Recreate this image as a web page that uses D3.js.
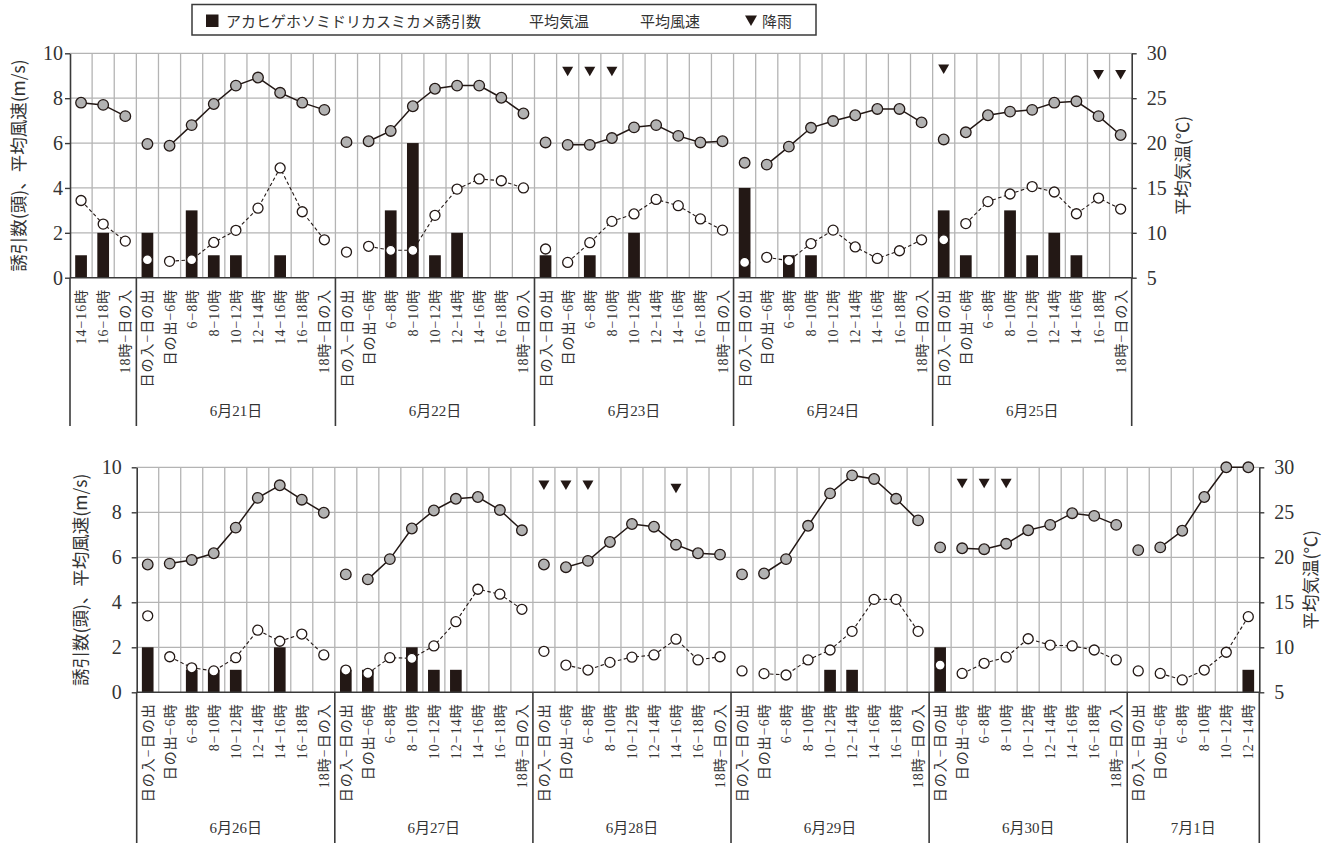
<!DOCTYPE html>
<html><head><meta charset="utf-8">
<script src="https://cdn.jsdelivr.net/npm/d3@7"></script>
<style>body{margin:0;background:#fff}svg{display:block}</style>
</head><body><svg id="c" width="1333" height="843"></svg>
<script>
// ---------------- data ----------------
const dayPeriods = ["日の入−日の出","日の出−6時","6−8時","8−10時","10−12時","12−14時","14−16時","16−18時","18時−日の入"];
const firstDayPeriods = ["14−16時","16−18時","18時−日の入"];
const lastDayPeriods = ["日の入−日の出","日の出−6時","6−8時","8−10時","10−12時","12−14時"];
const nightPeriod = "日の入−日の出";

const topDayLabels = ["", "6月21日", "6月22日", "6月23日", "6月24日", "6月25日"];
const botDayLabels = ["6月26日", "6月27日", "6月28日", "6月29日", "6月30日", "7月1日"];

const leftTicks = [0, 2, 4, 6, 8, 10];
const rightTicks = [5, 10, 15, 20, 25, 30];

const legendLabels = ["アカヒゲホソミドリカスミカメ誘引数", "平均気温", "平均風速", "降雨"];
const leftTitle = "誘引数(頭)、平均風速(m/s)";
const rightTitle = "平均気温(℃)";

// top panel (6/20 afternoon – 6/25)
const topCount = [1,2,0, 2,0,3,1,1,0,1,0,0, 0,0,3,6,1,2,0,0,0, 1,0,1,0,2,0,0,0,0, 4,0,1,1,0,0,0,0,0, 3,1,0,3,1,2,1,0,0];
const topTemp = [24.5,24.25,23.0, 19.9,19.7,22.0,24.35,26.4,27.3,25.6,24.5,23.7, 20.1,20.2,21.35,24.1,26.05,26.4,26.4,25.05,23.3, 20.07,19.8,19.8,20.56,21.75,22.0,20.8,20.07,20.2, 17.8,17.6,19.6,21.7,22.45,23.1,23.8,23.8,22.3, 20.4,21.2,23.1,23.5,23.7,24.5,24.65,23.0,20.9];
const topWind = [3.44,2.39,1.63, 0.80,0.73,0.80,1.57,2.11,3.10,4.89,2.94,1.69, 1.14,1.40,1.22,1.22,2.78,3.95,4.40,4.32,4.00, 1.28,0.68,1.56,2.51,2.84,3.49,3.21,2.62,2.12, 0.68,0.91,0.76,1.52,2.12,1.37,0.86,1.20,1.69, 1.69,2.41,3.39,3.73,4.06,3.82,2.85,3.55,3.06];
const topRain = [null,null,null, null,null,null,null,null,null,null,null,null, null,null,null,null,null,null,null,null,null, null,9.2,9.2,9.2,null,null,null,null,null, null,null,null,null,null,null,null,null,null, 9.3,null,null,null,null,null,null,9.05,9.05];

// bottom panel (6/26 – 7/1 noon)
const botCount = [2,0,1,1,1,0,2,0,0, 1,1,0,2,1,1,0,0,0, 0,0,0,0,0,0,0,0,0, 0,0,0,0,1,1,0,0,0, 2,0,0,0,0,0,0,0,0, 0,0,0,0,0,1];
const botTemp = [19.2,19.3,19.7,20.45,23.3,26.6,28.0,26.4,24.95, 18.1,17.55,19.8,23.2,25.2,26.5,26.7,25.25,23.0, 19.2,18.9,19.6,21.7,23.7,23.4,21.4,20.45,20.3, 18.1,18.2,19.8,23.5,27.1,29.1,28.7,26.5,24.1, 21.1,21.0,20.9,21.5,23.0,23.6,24.9,24.6,23.6, 20.8,21.1,22.95,26.7,30.0,30.0];
const botWind = [3.40,1.58,1.09,0.95,1.54,2.76,2.27,2.59,1.66, 0.99,0.84,1.54,1.51,2.06,3.14,4.58,4.36,3.69, 1.82,1.21,0.99,1.33,1.56,1.66,2.36,1.44,1.58, 0.95,0.83,0.77,1.44,1.88,2.71,4.13,4.13,2.71, 1.21,0.84,1.29,1.56,2.38,2.10,2.06,1.88,1.44, 0.95,0.84,0.55,0.99,1.78,3.36];
const botRain = [null,null,null,null,null,null,null,null,null, null,null,null,null,null,null,null,null,null, 9.21,9.21,9.21,null,null,null,9.07,null,null, null,null,null,null,null,null,null,null,null, null,9.29,9.29,9.29,null,null,null,null,null, null,null,null,null,null,null];

// ---------------- drawing ----------------
const svg = d3.select("#c");
const CJK = "'Noto Sans CJK JP', sans-serif";
const SERIF = "'Liberation Serif', 'Noto Sans CJK JP', serif";
const INK = "#231815";
const GRID = "#b4b4b4";
const AXIS = "#3a3a3a";

function drawPanel(cfg, dayLabels, periodLists, count, temp, wind, rain) {
  const g = svg.append("g");
  const cats = [];
  periodLists.forEach((ps, d) => ps.forEach((p, j) => cats.push({day: d, period: p, key: d + "_" + j, i: cats.length})));
  const x = d3.scaleBand().domain(cats.map(c => c.key)).range([cfg.x0, cfg.x1]);
  const yL = d3.scaleLinear().domain([0, 10]).range([cfg.yB, cfg.yT]);
  const yR = d3.scaleLinear().domain([5, 30]).range([cfg.yB, cfg.yT]);
  const cx = i => x(cats[i].key) + x.bandwidth() / 2;
  const edges = cats.map(c => x(c.key)).concat([cfg.x1]);

  // grid
  g.append("g").selectAll("line").data(edges.slice(1, -1)).join("line")
    .attr("x1", d => d).attr("x2", d => d).attr("y1", cfg.yT).attr("y2", cfg.yB)
    .attr("stroke", GRID).attr("stroke-width", 1.3);
  g.append("g").selectAll("line").data(leftTicks.filter(t => t > 0)).join("line")
    .attr("x1", cfg.x0).attr("x2", cfg.x1).attr("y1", d => yL(d)).attr("y2", d => yL(d))
    .attr("stroke", GRID).attr("stroke-width", 1.3);

  // bars
  const bw = x.bandwidth() * 0.53;
  g.append("g").selectAll("rect").data(cats.filter(c => count[c.i] > 0)).join("rect")
    .attr("x", c => cx(c.i) - bw / 2).attr("width", bw)
    .attr("y", c => yL(count[c.i])).attr("height", c => yL(0) - yL(count[c.i]))
    .attr("fill", INK);

  // line segments per day (night period stands alone)
  const segs = periodLists.map((ps, d) => cats.filter(c => c.day === d && c.period !== nightPeriod));
  const lineT = d3.line().x(c => cx(c.i)).y(c => yR(temp[c.i]));
  const lineW = d3.line().x(c => cx(c.i)).y(c => yL(wind[c.i]));
  g.append("g").selectAll("path").data(segs).join("path")
    .attr("d", lineW).attr("fill", "none").attr("stroke", INK).attr("stroke-width", 1.1)
    .attr("stroke-dasharray", "3.5,2.5");
  g.append("g").selectAll("path").data(segs).join("path")
    .attr("d", lineT).attr("fill", "none").attr("stroke", INK).attr("stroke-width", 1.5);

  // points
  g.append("g").selectAll("circle").data(cats).join("circle")
    .attr("cx", c => cx(c.i)).attr("cy", c => yL(wind[c.i])).attr("r", 5)
    .attr("fill", "#fff").attr("stroke", INK).attr("stroke-width", 1.3);
  g.append("g").selectAll("circle").data(cats).join("circle")
    .attr("cx", c => cx(c.i)).attr("cy", c => yR(temp[c.i])).attr("r", 5.3)
    .attr("fill", "#b2b2b2").attr("stroke", INK).attr("stroke-width", 1.3);

  // rain markers
  g.append("g").selectAll("path").data(cats.filter(c => rain[c.i] != null)).join("path")
    .attr("transform", c => `translate(${cx(c.i)},${yL(rain[c.i])})`)
    .attr("d", "M-5.5,-4.5L5.5,-4.5L0,5Z").attr("fill", INK);

  // axes
  const axL = g.append("g").attr("transform", `translate(${cfg.x0},0)`)
    .call(d3.axisLeft(yL).tickValues(leftTicks).tickSize(5).tickSizeOuter(0).tickPadding(cfg.leftPad));
  const axR = g.append("g").attr("transform", `translate(${cfg.x1},0)`)
    .call(d3.axisRight(yR).tickValues(rightTicks).tickSize(5).tickSizeOuter(0).tickPadding(10));
  [axL, axR].forEach(a => {
    a.select(".domain").attr("stroke", AXIS).attr("stroke-width", 1.6);
    a.selectAll(".tick line").attr("stroke", AXIS).attr("stroke-width", 1.4);
    a.selectAll(".tick text").attr("font-family", SERIF).attr("font-size", 20).attr("fill", "#333");
  });
  g.append("line").attr("x1", cfg.x0).attr("x2", cfg.x1).attr("y1", yL(0)).attr("y2", yL(0))
    .attr("stroke", AXIS).attr("stroke-width", 1.6);

  // category labels
  g.append("g").selectAll("text").data(cats).join("text")
    .attr("transform", c => `translate(${cx(c.i)},${cfg.yB + 11}) rotate(-90)`)
    .attr("text-anchor", "end").attr("dy", "0.36em")
    .attr("font-family", SERIF).attr("font-size", 14).attr("letter-spacing", 1).attr("fill", "#333")
    .text(c => c.period);

  // day separators & labels
  const dayStart = periodLists.map((ps, d) => x(cats.find(c => c.day === d).key));
  const seps = dayStart.concat([cfg.x1]);
  g.append("g").selectAll("line").data(seps).join("line")
    .attr("x1", d => d).attr("x2", d => d).attr("y1", cfg.yB).attr("y2", cfg.sepB)
    .attr("stroke", AXIS).attr("stroke-width", 1.6);
  g.append("g").selectAll("text").data(dayLabels).join("text")
    .attr("x", (d, k) => (seps[k] + seps[k + 1]) / 2).attr("y", cfg.dayY)
    .attr("text-anchor", "middle").attr("dominant-baseline", "central")
    .attr("font-family", SERIF).attr("font-size", 15).attr("fill", "#333")
    .text(d => d);

  // axis titles
  g.append("text").attr("transform", `translate(${cfg.x0 - cfg.leftTitleOff},${(cfg.yT + cfg.yB) / 2}) rotate(-90)`)
    .attr("text-anchor", "middle").attr("dominant-baseline", "central")
    .attr("font-family", CJK).attr("font-size", 17.5).attr("fill", "#333").text(leftTitle);
  g.append("text").attr("transform", `translate(${cfg.x1 + 50},${(cfg.yT + cfg.yB) / 2}) rotate(-90)`)
    .attr("text-anchor", "middle").attr("dominant-baseline", "central")
    .attr("font-family", CJK).attr("font-size", 17.5).attr("fill", "#333").text(rightTitle);
}

const topPeriods = [firstDayPeriods, dayPeriods, dayPeriods, dayPeriods, dayPeriods, dayPeriods];
const botPeriods = [dayPeriods, dayPeriods, dayPeriods, dayPeriods, dayPeriods, lastDayPeriods];

drawPanel({x0: 70, x1: 1131.7, yT: 53.3, yB: 277.7, sepB: 426, dayY: 411, leftPad: 2, leftTitleOff: 53},
  topDayLabels, topPeriods, topCount, topTemp, topWind, topRain);
drawPanel({x0: 136.7, x1: 1259.3, yT: 467.3, yB: 692.3, sepB: 843, dayY: 828, leftPad: 10, leftTitleOff: 57},
  botDayLabels, botPeriods, botCount, botTemp, botWind, botRain);

// legend
const lg = svg.append("g");
lg.append("rect").attr("x", 192).attr("y", 4.5).attr("width", 624).attr("height", 30.5)
  .attr("fill", "#fff").attr("stroke", AXIS).attr("stroke-width", 1.5);
lg.append("rect").attr("x", 206).attr("y", 14.5).attr("width", 12.5).attr("height", 12.5).attr("fill", INK);
const legX = [226, 529, 640, 762];
lg.selectAll("text").data(legendLabels).join("text")
  .attr("x", (d, k) => legX[k]).attr("y", 20.5).attr("dominant-baseline", "central")
  .attr("font-family", CJK).attr("font-size", 15).attr("fill", "#333").text(d => d);
lg.append("path").attr("transform", "translate(751,20.5)").attr("d", "M-6,-5L6,-5L0,5.5Z").attr("fill", INK);
</script>
</body></html>
